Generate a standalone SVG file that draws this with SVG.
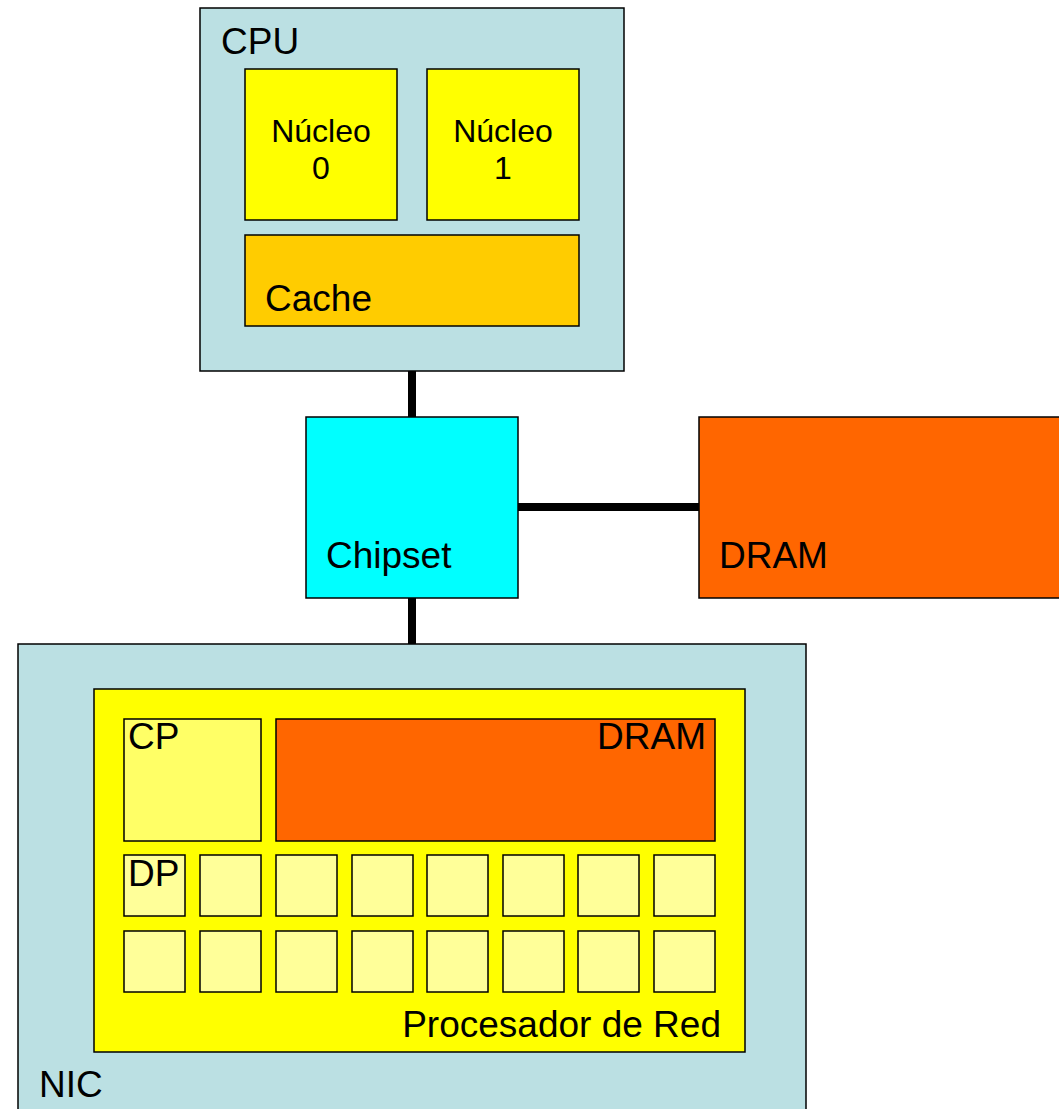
<svg xmlns="http://www.w3.org/2000/svg" width="1059" height="1109" viewBox="0 0 1059 1109">
<style>
rect{stroke:#000;stroke-width:1.5}
rect.bg{stroke:none;fill:#fff}
.blue{fill:#BBE0E3}
.yel{fill:#FFFF00}
.cache{fill:#FFCC00}
.chip{fill:#00FFFF}
.dram{fill:#FF6600}
.cp{fill:#FFFF66}
.dp{fill:#FFFF99}
text{font-family:"Liberation Sans",Arial,sans-serif;font-size:37px;fill:#000}
.sm{font-size:32px}
.conn{stroke:#000;stroke-width:8;fill:none}
</style>
<rect class="bg" width="1059" height="1109"/>
<g id="connectors">
<line class="conn" x1="412" y1="371" x2="412" y2="417"/>
<line class="conn" x1="412" y1="598" x2="412" y2="644"/>
<line class="conn" x1="518" y1="507" x2="699" y2="507"/>
</g>
<g id="cpu">
<rect class="blue" x="200" y="8" width="424" height="363"/>
<text x="221" y="54">CPU</text>
</g>
<g id="nucleo0">
<rect class="yel" x="245" y="69" width="152" height="151"/>
<text class="sm" x="321" y="142" text-anchor="middle">Núcleo</text>
<text class="sm" x="321" y="179" text-anchor="middle">0</text>
</g>
<g id="nucleo1">
<rect class="yel" x="427" y="69" width="152" height="151"/>
<text class="sm" x="503" y="142" text-anchor="middle">Núcleo</text>
<text class="sm" x="503" y="179" text-anchor="middle">1</text>
</g>
<g id="cache">
<rect class="cache" x="245" y="235" width="334" height="91"/>
<text x="265" y="311">Cache</text>
</g>
<g id="chipset">
<rect class="chip" x="306" y="417" width="212" height="181"/>
<text x="326" y="568">Chipset</text>
</g>
<g id="dram">
<rect class="dram" x="699" y="417" width="370" height="181"/>
<text x="719" y="568">DRAM</text>
</g>
<g id="nic">
<rect class="blue" x="18" y="644" width="788" height="480"/>
<text x="39" y="1097">NIC</text>
</g>
<g id="procesador">
<rect class="yel" x="94" y="689" width="651" height="363"/>
<text x="721" y="1037" text-anchor="end">Procesador de Red</text>
</g>
<g id="cp">
<rect class="cp" x="124" y="719" width="137" height="122"/>
<text x="128" y="749">CP</text>
</g>
<g id="nic-dram">
<rect class="dram" x="276" y="719" width="439" height="122"/>
<text x="706" y="749" text-anchor="end">DRAM</text>
</g>
<g id="dp-grid">
<rect class="dp" x="124" y="855" width="61" height="61"/>
<rect class="dp" x="200" y="855" width="61" height="61"/>
<rect class="dp" x="276" y="855" width="61" height="61"/>
<rect class="dp" x="352" y="855" width="61" height="61"/>
<rect class="dp" x="427" y="855" width="61" height="61"/>
<rect class="dp" x="503" y="855" width="61" height="61"/>
<rect class="dp" x="578" y="855" width="61" height="61"/>
<rect class="dp" x="654" y="855" width="61" height="61"/>
<rect class="dp" x="124" y="931" width="61" height="61"/>
<rect class="dp" x="200" y="931" width="61" height="61"/>
<rect class="dp" x="276" y="931" width="61" height="61"/>
<rect class="dp" x="352" y="931" width="61" height="61"/>
<rect class="dp" x="427" y="931" width="61" height="61"/>
<rect class="dp" x="503" y="931" width="61" height="61"/>
<rect class="dp" x="578" y="931" width="61" height="61"/>
<rect class="dp" x="654" y="931" width="61" height="61"/>
<text x="128" y="886">DP</text>
</g>
</svg>
